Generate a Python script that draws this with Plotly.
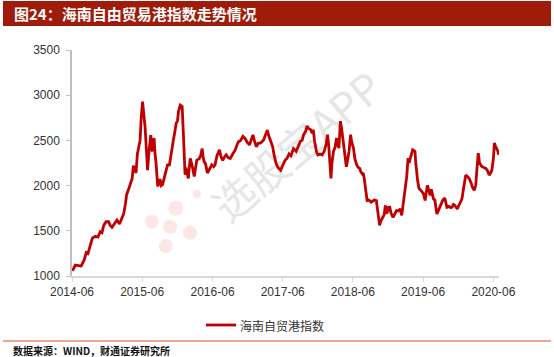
import plotly.graph_objects as go

dates = [
"2014-06-01","2014-06-08","2014-06-18","2014-07-03","2014-07-19","2014-08-04","2014-08-14","2014-08-23","2014-09-05","2014-09-15",
"2014-09-30","2014-10-14","2014-10-26","2014-11-04","2014-11-13","2014-11-25","2014-12-08","2014-12-17","2014-12-26","2015-01-07",
"2015-01-21","2015-02-03","2015-02-13","2015-02-25","2015-03-06","2015-03-12","2015-03-21","2015-04-03","2015-04-10","2015-04-16",
"2015-04-22","2015-04-30","2015-05-07","2015-05-12","2015-05-21","2015-05-27","2015-06-03","2015-06-08","2015-06-16","2015-06-23",
"2015-06-29","2015-07-05","2015-07-12","2015-07-16","2015-07-20","2015-07-25","2015-07-29","2015-08-02","2015-08-07","2015-08-12",
"2015-08-21","2015-08-28","2015-09-03","2015-09-08","2015-09-15","2015-09-21","2015-09-29","2015-10-11","2015-10-21","2015-10-27",
"2015-11-03","2015-11-10","2015-11-15","2015-11-20","2015-11-25","2015-12-02","2015-12-07","2015-12-16","2015-12-26","2016-01-02",
"2016-01-10","2016-01-14","2016-01-20","2016-01-27","2016-02-01","2016-02-06","2016-02-15","2016-02-22","2016-02-27","2016-03-05",
"2016-03-11","2016-03-18","2016-03-24","2016-03-31","2016-04-08","2016-04-13","2016-04-18","2016-04-26","2016-05-05","2016-05-16",
"2016-05-28","2016-06-07","2016-06-14","2016-06-24","2016-07-07","2016-07-15","2016-07-24","2016-08-03","2016-08-11","2016-08-21",
"2016-09-01","2016-09-14","2016-09-27","2016-10-06","2016-10-14","2016-10-25","2016-11-06","2016-11-18","2016-11-28","2016-12-10",
"2016-12-19","2016-12-28","2017-01-07","2017-01-15","2017-01-25","2017-02-05","2017-02-15","2017-02-22","2017-03-03","2017-03-13",
"2017-03-19","2017-03-27","2017-04-04","2017-04-10","2017-04-17","2017-04-27","2017-05-07","2017-05-21","2017-05-31","2017-06-13",
"2017-06-23","2017-07-04","2017-07-14","2017-07-27","2017-08-10","2017-08-20","2017-09-01","2017-09-10","2017-09-18","2017-09-28",
"2017-10-06","2017-10-14","2017-10-24","2017-11-01","2017-11-07","2017-11-13","2017-11-19","2017-11-24","2017-12-01","2017-12-12",
"2017-12-23","2018-01-03","2018-01-13","2018-01-20","2018-01-26","2018-02-01","2018-02-07","2018-02-12","2018-02-20","2018-02-28",
"2018-03-08","2018-03-14","2018-03-20","2018-03-24","2018-03-28","2018-04-04","2018-04-12","2018-04-20","2018-04-28","2018-05-05",
"2018-05-12","2018-05-20","2018-05-26","2018-06-04","2018-06-11","2018-06-21","2018-06-29","2018-07-07","2018-07-12","2018-07-20",
"2018-07-25","2018-07-30","2018-08-05","2018-08-14","2018-08-23","2018-09-04","2018-09-13","2018-09-21","2018-10-01","2018-10-07",
"2018-10-12","2018-10-18","2018-10-25","2018-11-05","2018-11-11","2018-11-17","2018-11-23","2018-11-27","2018-12-03","2018-12-10",
"2018-12-16","2018-12-27","2019-01-06","2019-01-14","2019-01-22","2019-02-02","2019-02-10","2019-02-17","2019-02-25","2019-03-01",
"2019-03-08","2019-03-15","2019-03-21","2019-03-29","2019-04-08","2019-04-14","2019-04-20","2019-04-24","2019-04-28","2019-05-04",
"2019-05-11","2019-05-20","2019-06-03","2019-06-08","2019-06-12","2019-06-18","2019-06-24","2019-07-01","2019-07-08","2019-07-14",
"2019-07-25","2019-08-01","2019-08-06","2019-08-12","2019-08-19","2019-08-27","2019-09-04","2019-09-12","2019-09-22","2019-09-27",
"2019-10-03","2019-10-13","2019-10-23","2019-10-30","2019-11-06","2019-11-14","2019-11-22","2019-11-26","2019-12-04","2019-12-13",
"2019-12-20","2019-12-28","2020-01-09","2020-01-18","2020-01-27","2020-02-06","2020-02-13","2020-02-22","2020-03-01","2020-03-06",
"2020-03-14","2020-03-21","2020-04-02","2020-04-12","2020-04-22","2020-04-30","2020-05-10","2020-05-18","2020-05-24","2020-06-01",
"2020-06-06","2020-06-11","2020-06-18","2020-06-24","2020-06-29",
]

index_values = [
1060,1075,1120,1115,1110,1180,1260,1250,1350,1420,
1440,1430,1490,1480,1560,1600,1600,1560,1540,1580,
1620,1575,1620,1690,1800,1900,1950,2020,2080,2220,
2180,2140,2350,2410,2500,2750,2930,2820,2650,2400,
2170,2340,2500,2560,2400,2380,2500,2525,2350,2250,
1990,2060,2060,2000,2010,2060,2140,2230,2230,2330,
2430,2500,2560,2620,2690,2720,2820,2890,2875,2540,
2120,2200,2150,2080,2200,2300,2230,2150,2100,2200,
2280,2290,2300,2330,2410,2320,2265,2240,2140,2180,
2230,2210,2230,2330,2395,2320,2280,2320,2340,2310,
2300,2350,2395,2450,2485,2500,2545,2520,2480,2450,
2500,2560,2480,2430,2470,2470,2490,2505,2560,2615,
2560,2520,2480,2430,2340,2250,2200,2170,2220,2280,
2300,2350,2330,2410,2380,2440,2490,2500,2564,2600,
2660,2630,2620,2580,2620,2500,2420,2370,2340,2350,
2340,2380,2460,2564,2450,2250,2080,2250,2378,2420,
2527,2450,2415,2550,2713,2620,2490,2330,2209,2290,
2378,2564,2480,2415,2300,2228,2200,2190,2154,2130,
2140,2079,1950,1835,1840,1816,1830,1840,1835,1720,
1640,1560,1610,1667,1680,1780,1690,1705,1760,1761,
1700,1648,1690,1723,1720,1742,1670,1780,1900,2003,
2100,2303,2250,2322,2396,2390,2378,2250,2154,2050,
1967,1950,1911,1880,1835,1930,2003,1950,1892,1960,
1854,1840,1760,1686,1720,1760,1780,1840,1863,1800,
1761,1770,1755,1761,1790,1780,1750,1742,1780,1816,
1850,1960,2116,2100,2079,2030,1980,1948,2003,2150,
2359,2250,2209,2200,2190,2170,2116,2140,2172,2300,
2471,2440,2415,2380,2340,
]

series_name = "海南自贸港指数"
title_text = "图24：海南自由贸易港指数走势情况"
source_text = "数据来源：WIND，财通证券研究所"
tick_dates = ["2014-06-01","2015-06-01","2016-06-01","2017-06-01","2018-06-01","2019-06-01","2020-06-01"]
tick_labels = ["2014-06","2015-06","2016-06","2017-06","2018-06","2019-06","2020-06"]
y_ticks = [1000, 1500, 2000, 2500, 3000, 3500]

LINE_COLOR = "#C00000"
W_FIG, H_FIG = 554, 357
L, R, T, B = 72, 55, 50, 81
PW, PH = W_FIG - L - R, H_FIG - T - B

def px(x):
    return (x - L) / PW

def py(y):
    return (T + PH - y) / PH

fig = go.Figure()
fig.add_trace(go.Scatter(
    x=dates, y=index_values, mode="lines", name=series_name,
    line=dict(color=LINE_COLOR, width=2.8), showlegend=False,
))

shapes = [
    # title band
    dict(type="rect", xref="paper", yref="paper", x0=px(3), x1=px(551), y0=py(26), y1=py(1),
         fillcolor="#A01C0A", line=dict(width=0), layer="above"),
    # bottom separator
    dict(type="line", xref="paper", yref="paper", x0=px(3), x1=px(551), y0=py(341), y1=py(341),
         line=dict(color="#D9532E", width=1.2)),
    # legend line sample
    dict(type="line", xref="paper", yref="paper", x0=px(206), x1=px(236), y0=py(325), y1=py(325),
         line=dict(color=LINE_COLOR, width=2.8)),
    # watermark text
    dict(type="rect", xref="paper", yref="paper", x0=px(200), x1=px(400), y0=py(200), y1=py(100),
         line=dict(width=0), fillcolor="rgba(0,0,0,0)", layer="below",
         label=dict(text="选股宝APP", textangle=-40,
                    font=dict(family="Noto Sans CJK SC", size=42, color="#E6E6E6"))),
]
for cx, cy, r in [(151.7, 221.7, 7), (175.7, 208.3, 7.5), (170, 226.7, 7), (190, 232.7, 7),
                  (165.7, 246, 7), (196.7, 194, 4)]:
    shapes.append(dict(type="circle", xref="paper", yref="paper",
                       x0=px(cx - r), x1=px(cx + r), y0=py(cy + r), y1=py(cy - r),
                       fillcolor="rgba(240,160,150,0.25)", line=dict(width=0), layer="below"))

annotations = [
    dict(text=title_text, xref="paper", yref="paper", x=px(12), y=py(13.5),
         xanchor="left", yanchor="middle", showarrow=False,
         font=dict(family="Noto Sans CJK SC", size=15, color="white", weight="bold")),
    dict(text=series_name, xref="paper", yref="paper", x=px(238), y=py(325),
         xanchor="left", yanchor="middle", showarrow=False,
         font=dict(family="Noto Sans CJK SC", size=12, color="#333333")),
    dict(text=source_text, xref="paper", yref="paper", x=px(11), y=py(350),
         xanchor="left", yanchor="middle", showarrow=False,
         font=dict(family="Noto Sans CJK SC", size=10, color="#111111", weight="bold")),
]

fig.update_layout(
    width=W_FIG, height=H_FIG,
    margin=dict(l=L, r=R, t=T, b=B, pad=0, autoexpand=False),
    paper_bgcolor="white", plot_bgcolor="white",
    showlegend=False,
    xaxis=dict(
        type="date", range=["2014-06-01", "2020-06-30"],
        tickvals=tick_dates, ticktext=tick_labels,
        showgrid=False, zeroline=False,
        showline=True, linecolor="#D9D9D9", linewidth=1.5,
        ticks="outside", ticklen=4, tickcolor="#D9D9D9", tickwidth=1,
        tickfont=dict(family="Liberation Sans", size=12, color="#333333"),
    ),
    yaxis=dict(
        range=[1000, 3500], tickvals=y_ticks,
        showgrid=False, zeroline=False,
        showline=True, linecolor="#BFBFBF", linewidth=1.5,
        ticks="outside", ticklen=4, tickcolor="#BFBFBF", tickwidth=1,
        ticklabelstandoff=4,
        tickfont=dict(family="Liberation Sans", size=12, color="#333333"),
    ),
    shapes=shapes,
    annotations=annotations,
)

fig.write_html(
    "out.html",
    config={"displayModeBar": False},
    post_script="document.body.style.margin='0';document.body.style.padding='0';",
)
